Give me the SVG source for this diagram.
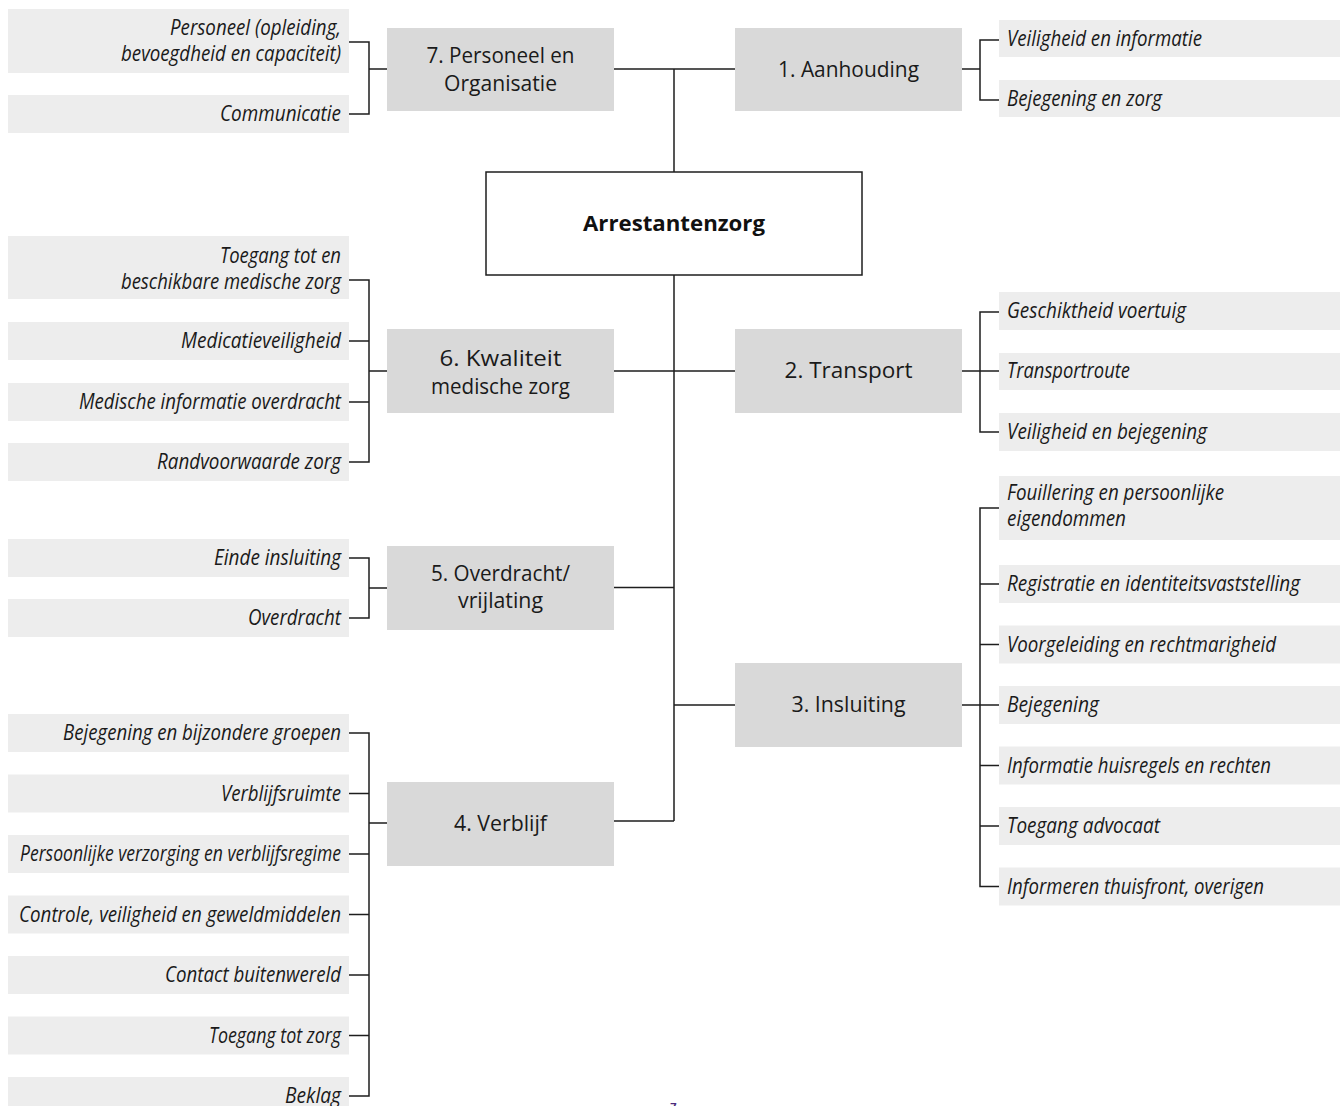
<svg xmlns="http://www.w3.org/2000/svg" width="1343" height="1106" viewBox="0 0 1343 1106">
<style>
.leaf{fill:#ededed}
.box{fill:#d9d9d9}
.main{fill:#ffffff;stroke:#1e1e1e;stroke-width:1.5}
.ln{stroke:#1e1e1e;stroke-width:1.5;fill:none}
.lt{font-family:"Open Sans","Noto Sans",sans-serif;font-style:italic;font-size:21px;fill:#1a1a1a}
.l{text-anchor:end}
.bt{font-family:"Open Sans","Noto Sans",sans-serif;font-size:21px;fill:#1a1a1a;text-anchor:middle}
.ct{font-family:"Open Sans","Noto Sans",sans-serif;font-weight:bold;font-size:22px;fill:#111;text-anchor:middle}
.pg{font-family:"Open Sans","Noto Sans",sans-serif;font-weight:bold;font-size:11px;fill:#4b2a7b;text-anchor:middle}
</style>
<rect width="1343" height="1106" fill="#ffffff"/>

<g id="connectors">
<path class="ln" d="M614,69H735M674,69V172M674,275V821"/>
<path class="ln" d="M614,371H735M614,587.5H674M674,705H735M614,821H674"/>
<!-- group 7 -->
<path class="ln" d="M349,42H369V114H349M369,69H387"/>
<!-- group 1 -->
<path class="ln" d="M962,69H980M999,40H980V100H999"/>
<!-- group 6 -->
<path class="ln" d="M349,280H369V462H349M349,341H369M349,402H369M369,371H387"/>
<!-- group 2 -->
<path class="ln" d="M962,371H999M999,312H980V432H999"/>
<!-- group 5 -->
<path class="ln" d="M349,558H369V618H349M369,588H387"/>
<!-- group 3 -->
<path class="ln" d="M962,705H999M999,508H980V886.5H999M980,584H999M980,644.5H999M980,765.5H999M980,826H999"/>
<!-- group 4 -->
<path class="ln" d="M349,733H369V1096H349M349,793.5H369M349,854H369M349,914.5H369M349,975H369M349,1035.5H369M369,823H387"/>
</g>

<g id="node-center">
<rect class="main" x="486" y="172" width="376" height="103"/>
<text class="ct" x="674" y="231" textLength="182" lengthAdjust="spacingAndGlyphs">Arrestantenzorg</text>
</g>

<g id="node-7">
<rect class="box" x="387" y="28" width="227" height="83"/>
<text class="bt" x="500.5" y="63" textLength="148" lengthAdjust="spacingAndGlyphs">7. Personeel en</text>
<text class="bt" x="500.5" y="91" textLength="113" lengthAdjust="spacingAndGlyphs">Organisatie</text>
</g>
<g id="leaf-7-1">
<rect class="leaf" x="8" y="9" width="341" height="64"/>
<text class="lt l" x="341" y="35" textLength="171" lengthAdjust="spacingAndGlyphs">Personeel (opleiding,</text>
<text class="lt l" x="341" y="61" textLength="220" lengthAdjust="spacingAndGlyphs">bevoegdheid en capaciteit)</text>
</g>
<g id="leaf-7-2">
<rect class="leaf" x="8" y="95" width="341" height="38"/>
<text class="lt l" x="341" y="121" textLength="121" lengthAdjust="spacingAndGlyphs">Communicatie</text>
</g>

<g id="node-1">
<rect class="box" x="735" y="28" width="227" height="83"/>
<text class="bt" x="848.5" y="77" textLength="141" lengthAdjust="spacingAndGlyphs">1. Aanhouding</text>
</g>
<g id="leaf-1-1">
<rect class="leaf" x="999" y="20" width="341" height="37"/>
<text class="lt" x="1007" y="46" textLength="195" lengthAdjust="spacingAndGlyphs">Veiligheid en informatie</text>
</g>
<g id="leaf-1-2">
<rect class="leaf" x="999" y="80" width="341" height="37"/>
<text class="lt" x="1007" y="106" textLength="155" lengthAdjust="spacingAndGlyphs">Bejegening en zorg</text>
</g>

<g id="node-6">
<rect class="box" x="387" y="329" width="227" height="84"/>
<text class="bt" x="500.5" y="366" textLength="122" lengthAdjust="spacingAndGlyphs">6. Kwaliteit</text>
<text class="bt" x="500.5" y="394" textLength="139" lengthAdjust="spacingAndGlyphs">medische zorg</text>
</g>
<g id="leaf-6-1">
<rect class="leaf" x="8" y="236" width="341" height="63"/>
<text class="lt l" x="341" y="263" textLength="121" lengthAdjust="spacingAndGlyphs">Toegang tot en</text>
<text class="lt l" x="341" y="289" textLength="220" lengthAdjust="spacingAndGlyphs">beschikbare medische zorg</text>
</g>
<g id="leaf-6-2">
<rect class="leaf" x="8" y="322" width="341" height="38"/>
<text class="lt l" x="341" y="348" textLength="160" lengthAdjust="spacingAndGlyphs">Medicatieveiligheid</text>
</g>
<g id="leaf-6-3">
<rect class="leaf" x="8" y="383" width="341" height="38"/>
<text class="lt l" x="341" y="409" textLength="262" lengthAdjust="spacingAndGlyphs">Medische informatie overdracht</text>
</g>
<g id="leaf-6-4">
<rect class="leaf" x="8" y="443" width="341" height="38"/>
<text class="lt l" x="341" y="469" textLength="184" lengthAdjust="spacingAndGlyphs">Randvoorwaarde zorg</text>
</g>

<g id="node-2">
<rect class="box" x="735" y="329" width="227" height="84"/>
<text class="bt" x="848.5" y="378" textLength="128" lengthAdjust="spacingAndGlyphs">2. Transport</text>
</g>
<g id="leaf-2-1">
<rect class="leaf" x="999" y="292" width="341" height="38"/>
<text class="lt" x="1007" y="318" textLength="179" lengthAdjust="spacingAndGlyphs">Geschiktheid voertuig</text>
</g>
<g id="leaf-2-2">
<rect class="leaf" x="999" y="353" width="341" height="37"/>
<text class="lt" x="1007" y="378" textLength="123" lengthAdjust="spacingAndGlyphs">Transportroute</text>
</g>
<g id="leaf-2-3">
<rect class="leaf" x="999" y="413" width="341" height="38"/>
<text class="lt" x="1007" y="439" textLength="200" lengthAdjust="spacingAndGlyphs">Veiligheid en bejegening</text>
</g>

<g id="node-5">
<rect class="box" x="387" y="546" width="227" height="84"/>
<text class="bt" x="500.5" y="581" textLength="139" lengthAdjust="spacingAndGlyphs">5. Overdracht/</text>
<text class="bt" x="500.5" y="608" textLength="85" lengthAdjust="spacingAndGlyphs">vrijlating</text>
</g>
<g id="leaf-5-1">
<rect class="leaf" x="8" y="539" width="341" height="38"/>
<text class="lt l" x="341" y="565" textLength="127" lengthAdjust="spacingAndGlyphs">Einde insluiting</text>
</g>
<g id="leaf-5-2">
<rect class="leaf" x="8" y="599" width="341" height="38"/>
<text class="lt l" x="341" y="625" textLength="93" lengthAdjust="spacingAndGlyphs">Overdracht</text>
</g>

<g id="node-3">
<rect class="box" x="735" y="663" width="227" height="84"/>
<text class="bt" x="848.5" y="712" textLength="114" lengthAdjust="spacingAndGlyphs">3. Insluiting</text>
</g>
<g id="leaf-3-1">
<rect class="leaf" x="999" y="476" width="341" height="64"/>
<text class="lt" x="1007" y="500" textLength="217" lengthAdjust="spacingAndGlyphs">Fouillering en persoonlijke</text>
<text class="lt" x="1007" y="526" textLength="119" lengthAdjust="spacingAndGlyphs">eigendommen</text>
</g>
<g id="leaf-3-2">
<rect class="leaf" x="999" y="565" width="341" height="38"/>
<text class="lt" x="1007" y="591" textLength="293" lengthAdjust="spacingAndGlyphs">Registratie en identiteitsvaststelling</text>
</g>
<g id="leaf-3-3">
<rect class="leaf" x="999" y="625.5" width="341" height="38"/>
<text class="lt" x="1007" y="651.5" textLength="269" lengthAdjust="spacingAndGlyphs">Voorgeleiding en rechtmarigheid</text>
</g>
<g id="leaf-3-4">
<rect class="leaf" x="999" y="686" width="341" height="38"/>
<text class="lt" x="1007" y="712" textLength="92" lengthAdjust="spacingAndGlyphs">Bejegening</text>
</g>
<g id="leaf-3-5">
<rect class="leaf" x="999" y="746.5" width="341" height="38"/>
<text class="lt" x="1007" y="772.5" textLength="264" lengthAdjust="spacingAndGlyphs">Informatie huisregels en rechten</text>
</g>
<g id="leaf-3-6">
<rect class="leaf" x="999" y="807" width="341" height="38"/>
<text class="lt" x="1007" y="833" textLength="153" lengthAdjust="spacingAndGlyphs">Toegang advocaat</text>
</g>
<g id="leaf-3-7">
<rect class="leaf" x="999" y="867.5" width="341" height="38"/>
<text class="lt" x="1007" y="893.5" textLength="257" lengthAdjust="spacingAndGlyphs">Informeren thuisfront, overigen</text>
</g>

<g id="node-4">
<rect class="box" x="387" y="782" width="227" height="84"/>
<text class="bt" x="500.5" y="831" textLength="93" lengthAdjust="spacingAndGlyphs">4. Verblijf</text>
</g>
<g id="leaf-4-1">
<rect class="leaf" x="8" y="714" width="341" height="38"/>
<text class="lt l" x="341" y="740" textLength="278" lengthAdjust="spacingAndGlyphs">Bejegening en bijzondere groepen</text>
</g>
<g id="leaf-4-2">
<rect class="leaf" x="8" y="774.5" width="341" height="38"/>
<text class="lt l" x="341" y="800.5" textLength="120" lengthAdjust="spacingAndGlyphs">Verblijfsruimte</text>
</g>
<g id="leaf-4-3">
<rect class="leaf" x="8" y="835" width="341" height="38"/>
<text class="lt l" x="341" y="861" textLength="321" lengthAdjust="spacingAndGlyphs">Persoonlijke verzorging en verblijfsregime</text>
</g>
<g id="leaf-4-4">
<rect class="leaf" x="8" y="895.5" width="341" height="38"/>
<text class="lt l" x="341" y="921.5" textLength="322" lengthAdjust="spacingAndGlyphs">Controle, veiligheid en geweldmiddelen</text>
</g>
<g id="leaf-4-5">
<rect class="leaf" x="8" y="956" width="341" height="38"/>
<text class="lt l" x="341" y="982" textLength="176" lengthAdjust="spacingAndGlyphs">Contact buitenwereld</text>
</g>
<g id="leaf-4-6">
<rect class="leaf" x="8" y="1016.5" width="341" height="38"/>
<text class="lt l" x="341" y="1042.5" textLength="132" lengthAdjust="spacingAndGlyphs">Toegang tot zorg</text>
</g>
<g id="leaf-4-7">
<rect class="leaf" x="8" y="1077" width="341" height="38"/>
<text class="lt l" x="341" y="1103" textLength="56" lengthAdjust="spacingAndGlyphs">Beklag</text>
</g>

<text class="pg" x="673.5" y="1111">7</text>
</svg>
